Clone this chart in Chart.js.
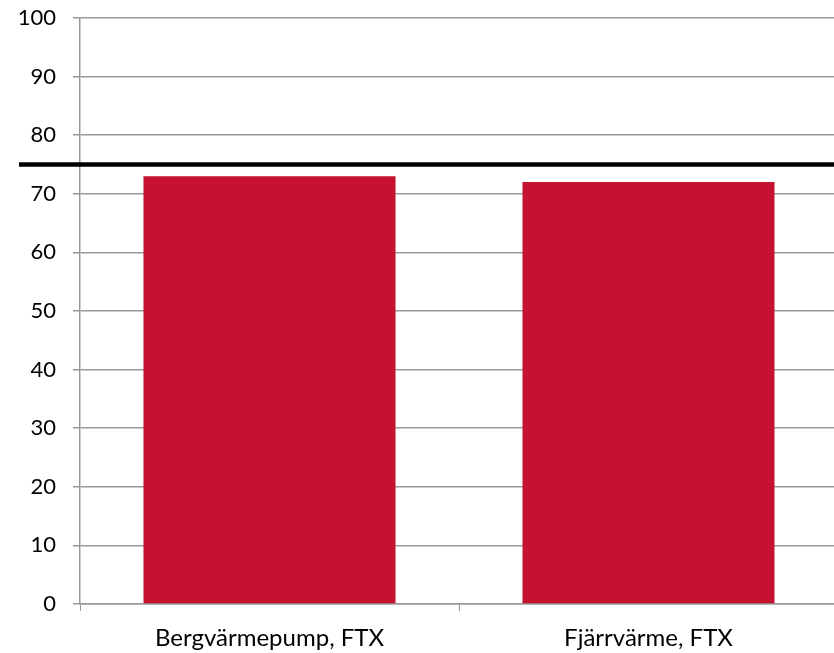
<!DOCTYPE html>
<html>
<head>
<meta charset="utf-8">
<script src="https://cdn.jsdelivr.net/npm/chart.js@4"></script>
<style>
  html, body { margin: 0; padding: 0; overflow: hidden; background: #fff; }
</style>
</head>
<body>
<canvas id="chart" width="838" height="653"></canvas>
<script>
const categories = ["Bergvärmepump, FTX", "Fjärrvärme, FTX"];
const values = [73, 72];
const limitValue = 75;
const yTicks = [0, 10, 20, 30, 40, 50, 60, 70, 80, 90, 100];

const limitLine = {
    id: 'limitLine',
    afterDatasetsDraw(chart) {
        const y = chart.scales.y.getPixelForValue(limitValue);
        const ctx = chart.ctx;
        ctx.save();
        ctx.strokeStyle = '#000';
        ctx.lineWidth = 4.5;
        ctx.beginPath();
        ctx.moveTo(19, y);
        ctx.lineTo(chart.width, y);
        ctx.stroke();
        ctx.restore();
    }
};

const ctx = document.getElementById("chart").getContext("2d");
const chart = new Chart(ctx, {
    type: 'bar',
    data: {
        labels: categories,
        datasets: [{
            data: values,
            backgroundColor: '#C41230',
            borderWidth: 0,
            categoryPercentage: 0.665,
            barPercentage: 1
        }]
    },
    options: {
        responsive: false,
        animation: false,
        layout: { padding: { top: 18, right: 0, bottom: 0, left: 0 } },
        plugins: {
            legend: { display: false },
            tooltip: { enabled: false }
        },
        scales: {
            x: {
                grid: {
                    offset: true,
                    drawOnChartArea: false,
                    drawTicks: true,
                    tickLength: 7,
                    color: '#999'
                },
                border: { color: '#999', width: 1.5 },
                ticks: {
                    color: '#000',
                    padding: 13,
                    font: { family: 'Lato', size: 24 }
                },
                afterFit(scale) {
                    scale.height = 49;
                    scale.paddingLeft = 0;
                    scale.paddingRight = 0;
                }
            },
            y: {
                min: 0,
                max: 100,
                afterBuildTicks(scale) {
                    scale.ticks = yTicks.map(v => ({ value: v }));
                },
                grid: {
                    color: '#999',
                    lineWidth: 1.5,
                    drawTicks: true,
                    tickLength: 7
                },
                border: { color: '#999', width: 1.5 },
                ticks: {
                    color: '#000',
                    padding: 17,
                    font: { family: 'Lato', size: 22 }
                },
                afterFit(scale) {
                    scale.width = 80;
                    scale.paddingTop = 0;
                    scale.paddingBottom = 0;
                }
            }
        }
    },
    plugins: [limitLine]
});
</script>
</body>
</html>
